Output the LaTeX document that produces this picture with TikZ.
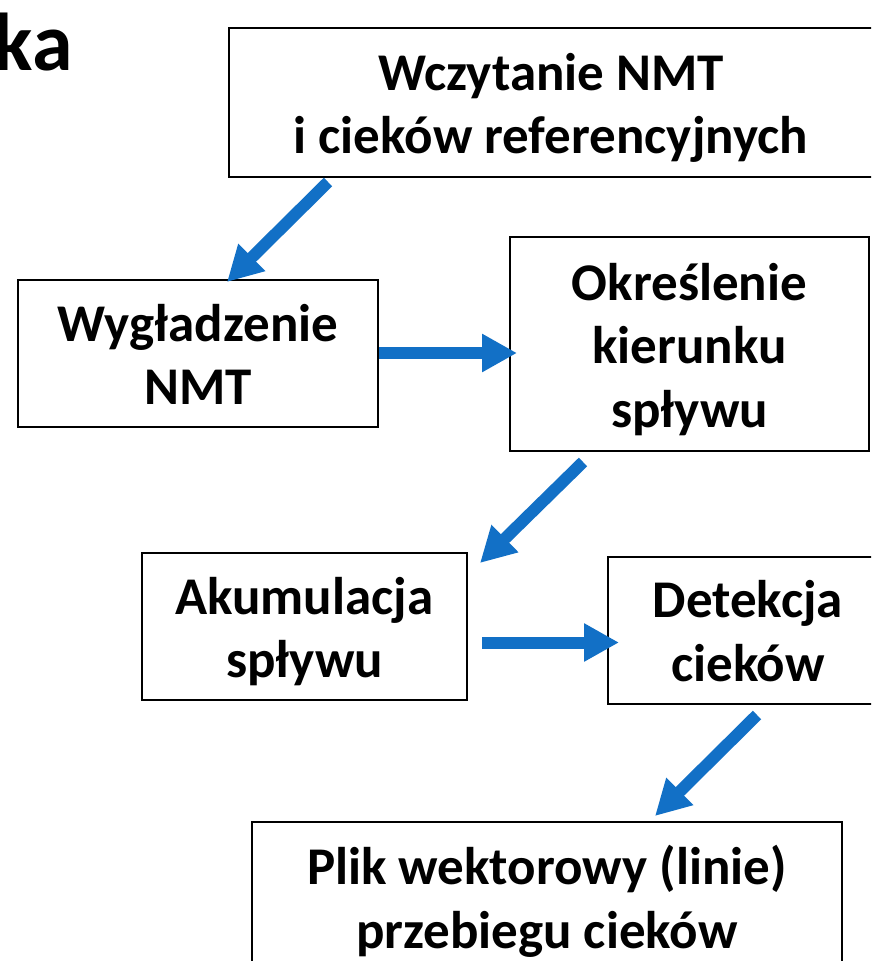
\documentclass[tikz,border=0pt]{standalone}
\usepackage{fontspec}
\setmainfont{Carlito}
\usetikzlibrary{arrows.meta}
\definecolor{arrowblue}{RGB}{18,112,198}
\newcommand{\topstrut}{\rule{0pt}{58pt}}
\newcommand{\botstrut}{\rule[-19pt]{0pt}{19pt}}
\tikzset{
  box/.style={draw=black, line width=2pt, fill=white, rectangle, inner sep=0pt,
    align=center, font=\fontsize{53}{63.5}\selectfont\bfseries},
  flow/.style={draw=arrowblue, line width=12pt,
    -{Triangle[length=35pt,width=36pt]}}
}
\begin{document}
\begin{tikzpicture}[x=1pt,y=-1pt]
\useasboundingbox (0,0) rectangle (871,961);
\clip (0,0) rectangle (871,961);
\fill[white] (0,0) rectangle (871,961);
\node[anchor=base east, font=\fontsize{82}{90}\selectfont\bfseries, inner sep=0pt] (title) at (73,70) {ka};
\node[box, minimum width=644pt, minimum height=149pt] (read) at (551,102.5) {\topstrut Wczytanie NMT\\i cieków referencyjnych\botstrut};
\node[box, minimum width=360pt, minimum height=147pt] (smooth) at (198,353.5) {\topstrut Wygładzenie\\NMT\botstrut};
\node[box, minimum width=359pt, minimum height=214pt] (dir) at (689.5,344) {\topstrut Określenie\\kierunku\\spływu\botstrut};
\node[box, minimum width=325pt, minimum height=147pt] (acc) at (304.5,626.5) {\topstrut Akumulacja\\spływu\botstrut};
\node[box, minimum width=280pt, minimum height=147pt] (det) at (748,630) {\topstrut Detekcja\\cieków\botstrut};
\node[box, minimum width=590pt, minimum height=150pt] (out) at (547,897) {\topstrut Plik wektorowy (linie)\\przebiegu cieków\botstrut};
\coordinate (a1s) at (328,182); \coordinate (a1e) at (227,282);
\coordinate (a2s) at (379,353); \coordinate (a2e) at (517,353);
\coordinate (a3s) at (583,462); \coordinate (a3e) at (480,563);
\coordinate (a4s) at (482,642.5); \coordinate (a4e) at (619,642.5);
\coordinate (a5s) at (757,715); \coordinate (a5e) at (655,816);
\draw[flow] (a1s) -- (a1e);
\draw[flow] (a2s) -- (a2e);
\draw[flow] (a3s) -- (a3e);
\draw[flow] (a4s) -- (a4e);
\draw[flow] (a5s) -- (a5e);
\end{tikzpicture}
\end{document}
